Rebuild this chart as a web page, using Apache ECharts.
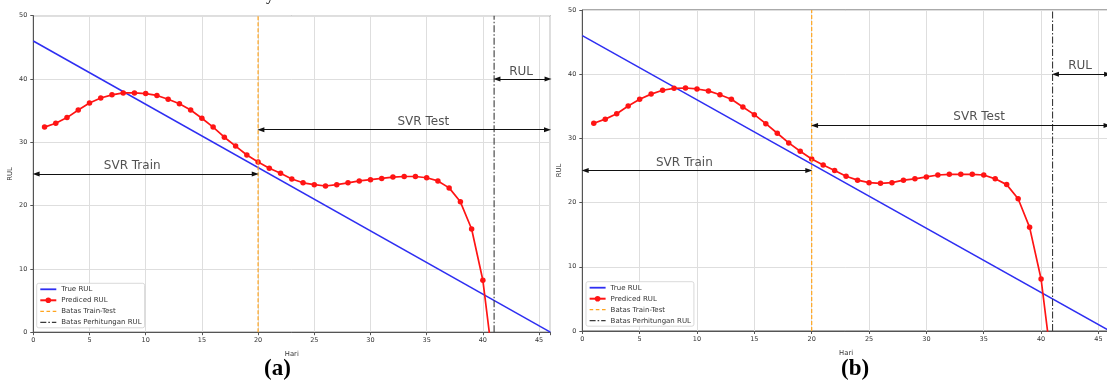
<!DOCTYPE html>
<html>
<head>
<meta charset="utf-8">
<script src="https://cdn.jsdelivr.net/npm/echarts@6/dist/echarts.min.js"></script>
<style>html,body{margin:0;padding:0;background:#fff}#c{width:1107px;height:385px}</style>
</head>
<body>
<div id="c"></div>
<script>
// ---- data ----
const trueDays = [0, 46];
const trueRul = [46, 0];
const predDays = [1,2,3,4,5,6,7,8,9,10,11,12,13,14,15,16,17,18,19,20,21,22,23,24,25,26,27,28,29,30,31,32,33,34,35,36,37,38,39,40,41];
const predA = [32.4,33.0,33.9,35.1,36.2,37.0,37.5,37.8,37.8,37.7,37.4,36.8,36.1,35.1,33.8,32.4,30.8,29.4,28.0,26.9,25.9,25.1,24.2,23.6,23.3,23.1,23.3,23.6,23.9,24.1,24.3,24.5,24.6,24.6,24.4,23.9,22.8,20.6,16.3,8.2,-6.2];
const predB = [32.35,33.0,33.85,35.05,36.1,36.9,37.5,37.8,37.85,37.7,37.4,36.8,36.1,34.9,33.7,32.3,30.8,29.3,28.0,26.8,25.85,25.0,24.1,23.5,23.1,23.0,23.1,23.5,23.7,24.0,24.3,24.4,24.4,24.4,24.3,23.7,22.8,20.6,16.15,8.1,-6.3];
const trainTestDay = 20;
const rulLimitDay = 41;
const xTicks = [0,5,10,15,20,25,30,35,40,45];
const yTicks = [0,10,20,30,40,50];
// arrows: [fromDay, toDay, rulLevel]
const arrowSpans = [[0.25,19.75,25],[20.25,45.75,32],[41.25,45.8,40]];
// annotation texts: [label, day, rul]
const annotA = [['SVR Train',8.8,26.3],['SVR Test',34.7,33.3],['RUL',43.4,41.2]];
const annotB = [['SVR Train',8.9,26.2],['SVR Test',34.6,33.3],['RUL',43.4,41.3]];
const legendNames = ['True RUL','Prediced RUL','Batas Train-Test','Batas Perhitungan RUL'];

const FONT = 'DejaVu Sans';
const chart = echarts.init(document.getElementById('c'), null, {renderer:'canvas'});

function axesFor(i, yGap){
  return {
    x: {
      type:'value', gridIndex:i, min:0, max:46, interval:5,
      name:'Hari', nameLocation:'middle', nameGap:18.5,
      nameTextStyle:{fontSize:6.8, color:'#333', fontFamily:FONT},
      axisLine:{show:true, onZero:false, lineStyle:{color:'#555', width:1}},
      axisTick:{show:true, length:3, lineStyle:{color:'#555'}},
      axisLabel:{fontSize:6.5, color:'#333', margin:5, fontFamily:FONT,
        formatter: v => xTicks.indexOf(v) >= 0 ? String(v) : ''},
      splitLine:{show:true, lineStyle:{color:'#dedede', width:1}}
    },
    y: {
      type:'value', gridIndex:i, min:0, max:50, interval:10,
      name:'RUL', nameLocation:'middle', nameGap:yGap,
      nameTextStyle:{fontSize:6.8, color:'#333', fontFamily:FONT},
      axisLine:{show:true, onZero:false, lineStyle:{color:'#555', width:1}},
      axisTick:{show:true, length:3, lineStyle:{color:'#555'}},
      axisLabel:{fontSize:6.5, color:'#333', margin:6, fontFamily:FONT,
        formatter: v => yTicks.indexOf(v) >= 0 ? String(v) : ''},
      splitLine:{show:true, lineStyle:{color:'#dedede', width:1}}
    }
  };
}

const BLUE = '#2e2ef2', RED = '#ff1414', ORANGE = '#ffa51f', DARK = '#3a3a3a';

function seriesFor(i, pred, annot){
  const base = {xAxisIndex:i, yAxisIndex:i, animation:false};
  return [
    Object.assign({}, base, {
      type:'line', name:'True RUL', symbol:'none', z:2,
      data: trueDays.map((d,k)=>[d, trueRul[k]]),
      lineStyle:{color:BLUE, width:1.5}, itemStyle:{color:BLUE}
    }),
    Object.assign({}, base, {
      type:'line', name:'Prediced RUL', symbol:'circle', symbolSize:5.5, showSymbol:true, z:3,
      clip:true,
      data: predDays.map((d,k)=>[d, pred[k]]),
      lineStyle:{color:RED, width:1.7}, itemStyle:{color:RED}
    }),
    Object.assign({}, base, {
      type:'line', name:'Batas Train-Test', symbol:'none', z:4,
      data: [[trainTestDay,0],[trainTestDay,50]],
      lineStyle:{color:ORANGE, width:1.2, type:[4,2]}, itemStyle:{color:ORANGE}
    }),
    Object.assign({}, base, {
      type:'line', name:'Batas Perhitungan RUL', symbol:'none', z:4,
      data: [[rulLimitDay,0],[rulLimitDay,50]],
      lineStyle:{color:DARK, width:1.1, type:[7,2,1.5,2]}, itemStyle:{color:DARK}
    }),
    Object.assign({}, base, {
      type:'scatter', name:'annot'+i, symbolSize:1, z:5, silent:true,
      itemStyle:{color:'rgba(0,0,0,0)'},
      data: annot.map(a=>({name:a[0], value:[a[1], a[2]]})),
      label:{show:true, position:'inside', formatter:p=>p.name, fontSize:12, color:'#262626', fontFamily:FONT},
      markLine:{
        silent:true, animation:false,
        symbol:['triangle','triangle'], symbolSize:[5,7],
        label:{show:false},
        lineStyle:{color:'#111', width:1.2, type:'solid'},
        data: arrowSpans.map(s=>[{coord:[s[0], s[2]]},{coord:[s[1], s[2]]}])
      }
    })
  ];
}

const A = axesFor(0, 20), B = axesFor(1, 20);
function legendFor(left, top){
  return {
    data: [
      {name:legendNames[0], icon:'path://M0,0h16v1.8h-16z'},
      {name:legendNames[1]},
      {name:legendNames[2], icon:'path://M0,0h3.6v1.2h-3.6z M6.2,0h3.6v1.2h-3.6z M12.4,0h3.6v1.2h-3.6z'},
      {name:legendNames[3], icon:'path://M0,0h6v1.3h-6z M8,0h1.6v1.3h-1.6z M11.6,0h4.4v1.3h-4.4z'}
    ],
    orient:'vertical', left:left, top:top,
    itemWidth:16, itemHeight:7, itemGap:4,
    padding:[2.5,3,2,2.6],
    backgroundColor:'rgba(255,255,255,0.85)', borderColor:'#cfcfcf', borderWidth:0.8, borderRadius:2,
    textStyle:{fontSize:7, color:'#333', fontFamily:FONT},
    selectedMode:false
  };
}

const option = {
  animation:false,
  backgroundColor:'#ffffff',
  textStyle:{fontFamily:FONT},
  grid:[
    {left:33.3, top:15.7, width:517, height:316.5, show:true, borderColor:'#555', borderWidth:1, backgroundColor:'rgba(0,0,0,0)', containLabel:false, outerBoundsMode:'none'},
    {left:582.3, top:10, width:527.6, height:321, show:true, borderColor:'#555', borderWidth:1, backgroundColor:'rgba(0,0,0,0)', containLabel:false, outerBoundsMode:'none'}
  ],
  xAxis:[A.x, B.x],
  yAxis:[A.y, B.y],
  legend:[legendFor(36.7, 283.3), legendFor(586, 281.7)],
  series: seriesFor(0, predA, annotA).concat(seriesFor(1, predB, annotB)),
  graphic:[
    {type:'text', left:264, top:358, style:{text:'(a)', font:'bold 23px "Liberation Serif", serif', fill:'#000'}},
    {type:'text', left:841, top:358, style:{text:'(b)', font:'bold 23px "Liberation Serif", serif', fill:'#000'}},
    {type:'text', x:270, y:4, style:{text:'y', font:'16px "Liberation Serif", serif', fill:'#000', align:'center', verticalAlign:'bottom'}}
  ]
};
chart.setOption(option);
</script>
</body>
</html>
